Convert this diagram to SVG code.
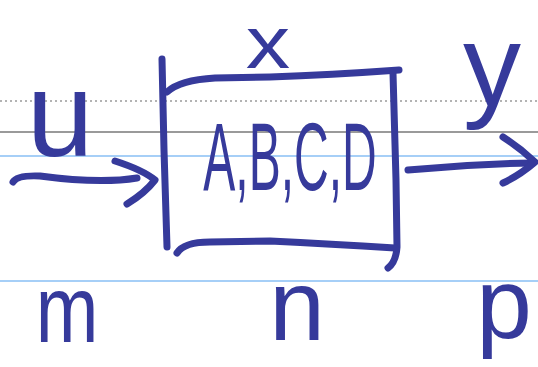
<svg xmlns="http://www.w3.org/2000/svg" width="538" height="367" viewBox="0 0 538 367">
<style>
.ink{fill:none;stroke:#363A9B;stroke-width:7;stroke-linecap:round;stroke-linejoin:round}
.t{font-family:"Liberation Sans",Arial,sans-serif;fill:#363A9B;text-anchor:middle}
</style>
<rect width="538" height="367" fill="#ffffff"/>
<g id="ruling">
<line x1="0" y1="101" x2="538" y2="101" stroke="#9a9a9a" stroke-width="1.5" stroke-dasharray="2,3"/>
<line x1="0" y1="132" x2="538" y2="132" stroke="#9a9a9a" stroke-width="2"/>
<line x1="0" y1="156" x2="538" y2="156" stroke="#a6cff7" stroke-width="2"/>
<line x1="0" y1="281" x2="538" y2="281" stroke="#a6cff7" stroke-width="2"/>
</g>
<g id="block">
<path class="ink" d="M162,59 L164,150 L167,247"/>
<path class="ink" d="M167,92 Q180,80 215,78 L270,77 Q330,75 399,70"/>
<path class="ink" d="M393,73 L396,180 L397,247 Q396,262 388,268"/>
<path class="ink" d="M177,253 Q184,242 210,242 L270,241 Q330,244 395,248"/>
<text class="t" transform="translate(290,190) scale(0.5,1)" font-size="96">A,B,C,D</text>
</g>
<g id="label-x"><text class="t" transform="translate(268,68) scale(1.2,1)" font-size="74">x</text></g>
<g id="label-u"><text class="t" x="60" y="156" font-size="120">u</text></g>
<g id="label-y"><text class="t" x="492" y="106" font-size="116">y</text></g>
<g id="label-m"><text class="t" transform="translate(67,342) scale(0.8,1)" font-size="94">m</text></g>
<g id="label-n"><text class="t" x="297" y="340" font-size="100">n</text></g>
<g id="label-p"><text class="t" x="504" y="338" font-size="100">p</text></g>
<g id="connectors">
<path class="ink" d="M13,182 Q17,175 40,176 Q100,184 137,178"/>
<path class="ink" d="M115,161 Q143,170 155,180 Q145,193 127,204"/>
<path class="ink" d="M408,170 Q470,164 533,163"/>
<path class="ink" d="M503,137 Q520,148 535,162 Q520,175 503,183"/>
</g>
</svg>
